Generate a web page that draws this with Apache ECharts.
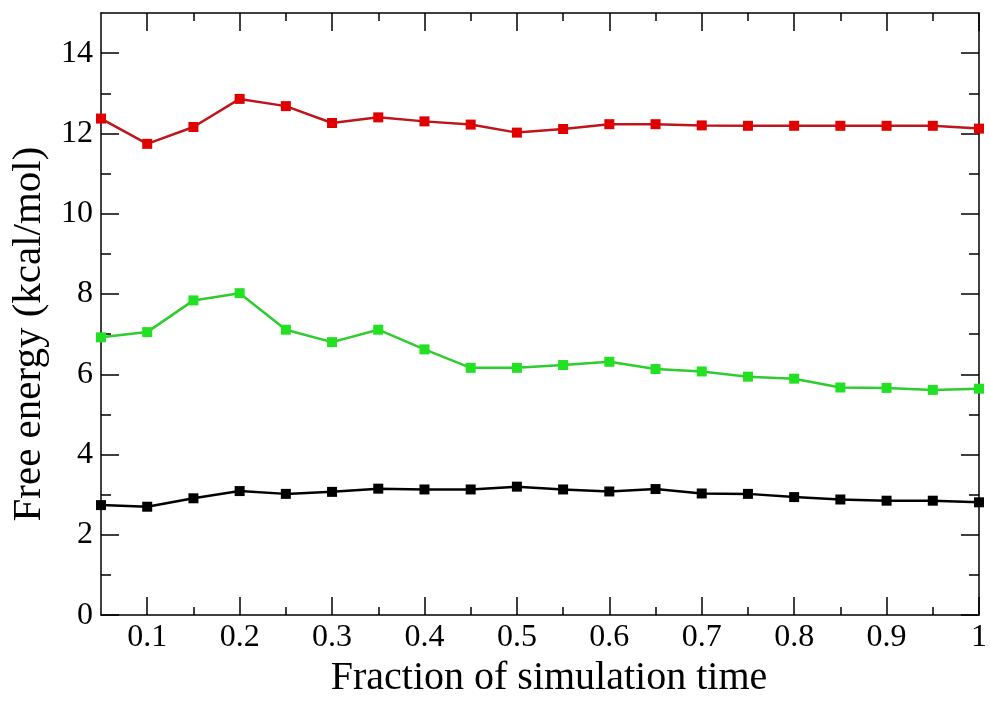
<!DOCTYPE html>
<html>
<head>
<meta charset="utf-8">
<script src="https://cdn.jsdelivr.net/npm/echarts@6/dist/echarts.min.js"></script>
<style>html,body{margin:0;padding:0;background:#fff}#c{width:990px;height:703px}</style>
</head>
<body>
<div id="c"></div>
<script>
const xValues = [0.05,0.1,0.15,0.2,0.25,0.3,0.35,0.4,0.45,0.5,0.55,0.6,0.65,0.7,0.75,0.8,0.85,0.9,0.95,1.0];
const redValues = [12.37,11.74,12.16,12.86,12.68,12.26,12.40,12.30,12.22,12.02,12.11,12.23,12.23,12.20,12.19,12.19,12.19,12.19,12.19,12.12];
const greenValues = [6.92,7.05,7.84,8.02,7.11,6.80,7.11,6.62,6.16,6.16,6.23,6.31,6.13,6.07,5.94,5.89,5.67,5.66,5.61,5.64];
const blackValues = [2.74,2.70,2.91,3.09,3.02,3.07,3.15,3.13,3.13,3.20,3.13,3.08,3.14,3.03,3.02,2.94,2.88,2.85,2.85,2.81];
const xMajorTicks = [0.1,0.2,0.3,0.4,0.5,0.6,0.7,0.8,0.9,1];
const xMinorTicks = [0.15,0.25,0.35,0.45,0.55,0.65,0.75,0.85,0.95];
const yMajorTicks = [0,2,4,6,8,10,12,14];
const yMinorTicks = [1,3,5,7,9,11,13];

const FONT = '"Liberation Serif", "DejaVu Serif", serif';
const chart = echarts.init(document.getElementById('c'));
const pair = (xs, ys) => xs.map((x, i) => [x, ys[i]]);

function xAx(pos, ticks, len, labels, line, extra) {
  return Object.assign({
    type: 'value', position: pos, min: 0.05, max: 1,
    axisLine: {show: line, onZero: false, lineStyle: {color: '#000', width: 1.5}},
    axisTick: {show: true, inside: true, length: len, customValues: ticks, lineStyle: {color: '#000', width: 1.5}},
    axisLabel: {show: labels, customValues: xMajorTicks, color: '#000', fontFamily: FONT, fontSize: 32, margin: 6,
      formatter: v => String(Math.round(v*10)/10)},
    splitLine: {show: false}
  }, extra || {});
}
function yAx(pos, ticks, len, labels, line, extra) {
  return Object.assign({
    type: 'value', position: pos, min: 0, max: 15,
    axisLine: {show: line, onZero: false, lineStyle: {color: '#000', width: 1.5}},
    axisTick: {show: true, inside: true, length: len, customValues: ticks, lineStyle: {color: '#000', width: 1.5}},
    axisLabel: {show: labels, customValues: yMajorTicks, color: '#000', fontFamily: FONT, fontSize: 32, margin: 8},
    splitLine: {show: false}
  }, extra || {});
}

function series(name, data, lineColor, markColor) {
  return {
    name: name, type: 'line', xAxisIndex: 0, yAxisIndex: 0,
    data: pair(xValues, data),
    symbol: 'rect', symbolSize: 10,
    lineStyle: {color: lineColor, width: 2.5},
    itemStyle: {color: markColor},
    animation: false, z: 5
  };
}

chart.setOption({
  backgroundColor: '#fff',
  animation: false,
  grid: {left: 101, right: 10, top: 13, bottom: 75, containLabel: false},
  xAxis: [
    xAx('bottom', xMajorTicks, 18, true, true, {
      name: 'Fraction of simulation time', nameLocation: 'middle', nameGap: 35,
      nameTextStyle: {color: '#000', fontFamily: FONT, fontSize: 40, padding: [0, 0, 0, 18]}
    }),
    xAx('bottom', xMinorTicks, 8, false, false),
    xAx('top', xMajorTicks, 18, false, true),
    xAx('top', xMinorTicks, 8, false, false)
  ],
  yAxis: [
    yAx('left', yMajorTicks, 18, true, true, {
      name: 'Free energy (kcal/mol)', nameLocation: 'middle', nameGap: 50,
      nameTextStyle: {color: '#000', fontFamily: FONT, fontSize: 41, padding: [0, 40, 0, 0]}
    }),
    yAx('left', yMinorTicks, 10, false, false),
    yAx('right', yMajorTicks, 18, false, true),
    yAx('right', yMinorTicks, 10, false, false)
  ],
  series: [
    series('red', redValues, '#c0141c', '#e00000'),
    series('green', greenValues, '#2ecc2e', '#22e022'),
    series('black', blackValues, '#000000', '#000000')
  ]
});
</script>
</body>
</html>
